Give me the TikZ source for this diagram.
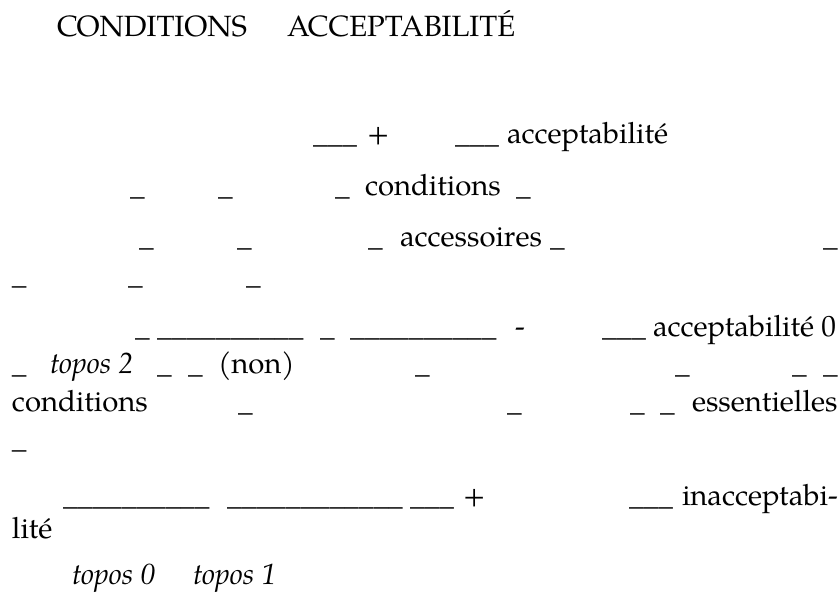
\documentclass[tikz,border=0pt]{standalone}
\usepackage{fontspec}
\setmainfont{TeX Gyre Pagella}
\begin{document}
\begin{tikzpicture}[x=1pt,y=-1pt,
  t/.style={anchor=base west, inner sep=0pt, outer sep=0pt, font=\fontsize{29.3}{35}\selectfont}]
\useasboundingbox[fill=white] (0,0) rectangle (840,594);
% line A
\node[t] (a1) at (57,37) {CONDITIONS};
\node[t] (a2) at (287,37) {ACCEPTABILITÉ};
% line B
\node[t] (b1) at (313,143) {\_\_\_};
\node[t] (b2) at (367,143) {+};
\node[t] (b3) at (455,143) {\_\_\_};
\node[t] (b4) at (507,143) {acceptabilité};
% line C
\node[t] (c1) at (130,195) {\_};
\node[t] (c2) at (218,195) {\_};
\node[t] (c3) at (335,195) {\_};
\node[t] (c4) at (365,195) {conditions};
\node[t] (c5) at (516,195) {\_};
% line D
\node[t] (d1) at (139,246) {\_};
\node[t] (d2) at (237,246) {\_};
\node[t] (d3) at (368,246) {\_};
\node[t] (d4) at (400,246) {accessoires};
\node[t] (d5) at (550,246) {\_};
\node[t] (d6) at (823,246) {\_};
% line E
\node[t] (e1) at (12,284) {\_};
\node[t] (e2) at (128,284) {\_};
\node[t] (e3) at (246,284) {\_};
% line F
\node[t] (f1) at (135,336) {\_};
\node[t] (f2) at (157,336) {\_\_\_\_\_\_\_\_\_\_};
\node[t] (f3) at (320,336) {\_};
\node[t] (f4) at (350,336) {\_\_\_\_\_\_\_\_\_\_};
\node[t] (f5) at (515,336) {-};
\node[t] (f6) at (602,336) {\_\_\_};
\node[t] (f7) at (653,336) {acceptabilité 0};
% line G
\node[t] (g1) at (12,373) {\_};
\node[t] (g2) at (50,373) {\textit{topos 2}};
\node[t] (g3) at (157,373) {\_};
\node[t] (g4) at (188,373) {\_};
\node[t] (g5) at (218,373) {(non)};
\node[t] (g6) at (415,373) {\_};
\node[t] (g7) at (675,373) {\_};
\node[t] (g8) at (792,373) {\_};
\node[t] (g9) at (823,373) {\_};
% line H
\node[t] (h1) at (12,411) {conditions};
\node[t] (h2) at (238,411) {\_};
\node[t] (h3) at (507,411) {\_};
\node[t] (h4) at (630,411) {\_};
\node[t] (h5) at (660,411) {\_};
\node[t] (h6) at (692,411) {essentielles};
% line I
\node[t] (i1) at (12,448) {\_};
% line J
\node[t] (j1) at (63,505) {\_\_\_\_\_\_\_\_\_\_};
\node[t] (j2) at (227,505) {\_\_\_\_\_\_\_\_\_\_\_\_};
\node[t] (j3) at (410,505) {\_\_\_};
\node[t] (j4) at (463,505) {+};
\node[t] (j5) at (629,505) {\_\_\_};
\node[t] (j6) at (682,505) {inacceptabi-};
% line K
\node[t] (k1) at (12,538) {lité};
% line L
\node[t] (l1) at (72,584) {\textit{topos 0}};
\node[t] (l2) at (193,584) {\textit{topos 1}};
\end{tikzpicture}
\end{document}
